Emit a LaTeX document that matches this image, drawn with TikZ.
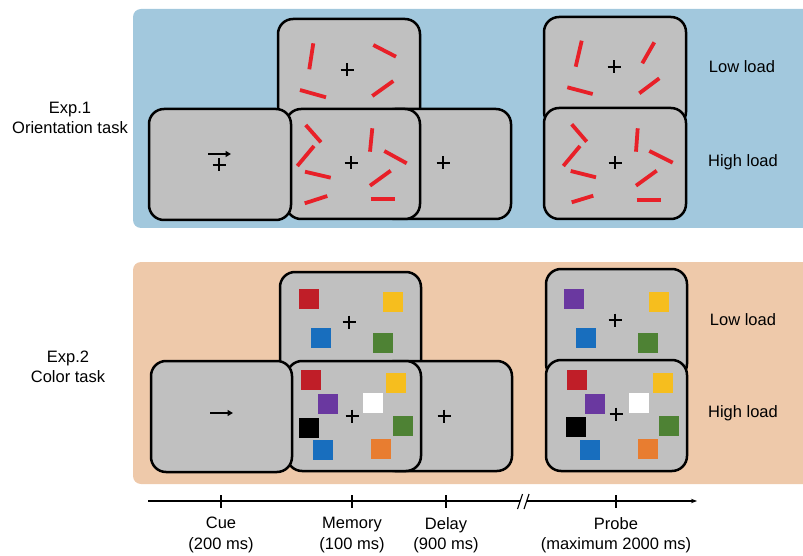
\documentclass[tikz,border=0pt]{standalone}
\usepackage{fontspec}
\setmainfont{Liberation Sans}
\usetikzlibrary{arrows.meta}

\definecolor{panelblue}{RGB}{162,200,221}
\definecolor{panelpeach}{RGB}{238,201,170}
\definecolor{screengray}{RGB}{192,192,192}
\definecolor{barred}{RGB}{232,32,40}
\definecolor{sqred}{RGB}{192,30,40}
\definecolor{sqyellow}{RGB}{246,190,30}
\definecolor{sqblue}{RGB}{24,110,190}
\definecolor{sqgreen}{RGB}{78,130,52}
\definecolor{sqpurple}{RGB}{106,56,160}
\definecolor{sqorange}{RGB}{232,125,48}

\tikzset{
  screen/.style={draw=black, line width=2.5pt, fill=screengray,
    rounded corners=15pt, inner sep=0pt,
    minimum width=142pt, minimum height=110pt},
  lbl/.style={font=\fontsize{16.5}{20.5}\selectfont, align=center, inner sep=0pt},
  bar/.style={draw=barred, line width=3.8pt},
  sq/.style={fill=#1, minimum size=20pt, inner sep=0pt},
  cuearrow/.style={line width=2pt, -{Triangle[length=5.5pt,width=6pt]}},
  pics/fixcross/.style={code={
    \draw[line width=1.6pt] (-6.5,0) -- (6.5,0) (0,-6.5) -- (0,6.5);}},
}

\begin{document}
\begin{tikzpicture}[x=1pt,y=-1pt]
\useasboundingbox (0,0) rectangle (803,556);

% background panels
\path[fill=panelblue, rounded corners=8pt] (133,9) rectangle (820,228);
\path[fill=panelpeach, rounded corners=8pt] (133,262) rectangle (820,484);

% ---------------- Exp. 1: orientation task ----------------
\node[lbl] (exp1) at (70,118) {Exp.1\\Orientation task};

\node[screen] (m1low) at (349,74) {};
\node[screen, minimum width=131pt] (d1) at (445.5,164) {};
\node[screen, minimum width=134pt] (m1high) at (353,164) {};
\node[screen, minimum height=111pt] (c1) at (220,164.5) {};
\node[screen] (p1low) at (615,72) {};
\node[screen, minimum height=111pt] (p1high) at (615,163.5) {};

\pic at (347,70) {fixcross};
\pic at (219,165) {fixcross};
\pic at (351,163) {fixcross};
\pic at (443,163) {fixcross};
\pic at (614,67) {fixcross};
\pic at (615,163) {fixcross};

\coordinate (a1s) at (208,154);
\coordinate (a1e) at (231,154);
\draw[cuearrow] (a1s) -- (a1e);

% memory array, low load
\draw[bar] (313.3,43.3) -- (309.3,69.3);
\draw[bar] (373.3,45) -- (396,56.7);
\draw[bar] (300,90) -- (326,97.3);
\draw[bar] (372.3,96) -- (393.3,81);
% memory array, high load
\draw[bar] (305.7,125) -- (321,142.3);
\draw[bar] (314,146) -- (297.3,166);
\draw[bar] (305,171.7) -- (330.7,177.7);
\draw[bar] (304.7,203.3) -- (327.3,196);
\draw[bar] (372.3,128.3) -- (370,151.7);
\draw[bar] (384.3,151) -- (406.7,163.3);
\draw[bar] (390.7,170.7) -- (370,185.7);
\draw[bar] (370.7,199.3) -- (395,199.3);
% probe array, low load
\draw[bar] (581.7,40.7) -- (575.7,66.7);
\draw[bar] (654.3,42.3) -- (642.3,63.3);
\draw[bar] (567.3,87.3) -- (592.7,94);
\draw[bar] (659.3,78.3) -- (639.3,93.3);
% probe array, high load
\draw[bar] (571.7,124.3) -- (586.7,141.7);
\draw[bar] (580,146) -- (563.3,166);
\draw[bar] (570.7,171) -- (596,177.3);
\draw[bar] (571.7,202.3) -- (593.3,195.7);
\draw[bar] (637.7,128.3) -- (636,151.7);
\draw[bar] (649.3,151) -- (672.7,162.7);
\draw[bar] (656.7,170.7) -- (636,185.7);
\draw[bar] (636.7,200) -- (660.7,200);

\node[lbl] (low1) at (742,67) {Low load};
\node[lbl] (high1) at (743,162) {High load};

% ---------------- Exp. 2: color task ----------------
\node[lbl] (exp2) at (68,367) {Exp.2\\Color task};

\node[screen, minimum width=141pt] (m2low) at (350.5,327) {};
\node[screen, minimum width=132pt] (d2) at (446,416) {};
\node[screen, minimum width=134pt] (m2high) at (354,416) {};
\node[screen, minimum width=141pt, minimum height=111pt] (c2) at (221.5,416.5) {};
\node[screen, minimum width=141pt] (p2low) at (616.5,324) {};
\node[screen, minimum width=141pt, minimum height=111pt] (p2high) at (616.5,415.5) {};

\pic at (349,322) {fixcross};
\pic at (352,416) {fixcross};
\pic at (444,416) {fixcross};
\pic at (615,320) {fixcross};
\pic at (616,414) {fixcross};

\coordinate (a2s) at (210,413);
\coordinate (a2e) at (233,413);
\draw[cuearrow] (a2s) -- (a2e);

% memory array, low load
\node[sq=sqred] (ml1) at (309.3,299) {};
\node[sq=sqyellow] (ml2) at (393.3,301.7) {};
\node[sq=sqblue] (ml3) at (320.7,338.3) {};
\node[sq=sqgreen] (ml4) at (383.3,342.7) {};
% memory array, high load
\node[sq=sqred] (mh1) at (310.7,380) {};
\node[sq=sqyellow] (mh2) at (395.7,382.7) {};
\node[sq=sqpurple] (mh3) at (328.3,404) {};
\node[sq=white] (mh4) at (372.7,403.3) {};
\node[sq=black] (mh5) at (309,427.7) {};
\node[sq=sqgreen] (mh6) at (403.3,426) {};
\node[sq=sqblue] (mh7) at (323.3,450.3) {};
\node[sq=sqorange] (mh8) at (381,449.3) {};
% probe array, low load
\node[sq=sqpurple] (pl1) at (574.3,299) {};
\node[sq=sqyellow] (pl2) at (659,301.7) {};
\node[sq=sqblue] (pl3) at (585.7,338.3) {};
\node[sq=sqgreen] (pl4) at (648.3,342.7) {};
% probe array, high load
\node[sq=sqred] (ph1) at (577,380) {};
\node[sq=sqyellow] (ph2) at (662.7,382.7) {};
\node[sq=sqpurple] (ph3) at (595,404) {};
\node[sq=white] (ph4) at (639.3,403.3) {};
\node[sq=black] (ph5) at (575.7,426.7) {};
\node[sq=sqgreen] (ph6) at (669.3,426) {};
\node[sq=sqblue] (ph7) at (590,450.3) {};
\node[sq=sqorange] (ph8) at (647.7,449.3) {};

\node[lbl] (low2) at (743,320) {Low load};
\node[lbl] (high2) at (743,413) {High load};

% ---------------- time axis ----------------
\coordinate (t0) at (148,501);
\coordinate (bk1) at (520,501);
\coordinate (bk2) at (526.5,501);
\coordinate (tend) at (697,501);
\draw[line width=1.1pt] (t0) -- (bk1);
\draw[line width=1.1pt, -{Stealth[length=6pt,width=4.5pt]}] (bk2) -- (tend);
\draw[line width=1.1pt] (517.5,509) -- (522.5,494) (524,509) -- (529,494);

\foreach \x in {221,352,446,616}
  \draw[line width=1.1pt] (\x,495) -- (\x,507.5);

\node[lbl] (cue) at (221,535) {Cue\\(200 ms)};
\node[lbl] (mem) at (352,535) {Memory\\(100 ms)};
\node[lbl] (del) at (446,535) {Delay\\(900 ms)};
\node[lbl] (prb) at (616,535) {Probe\\(maximum 2000 ms)};
\end{tikzpicture}
\end{document}
